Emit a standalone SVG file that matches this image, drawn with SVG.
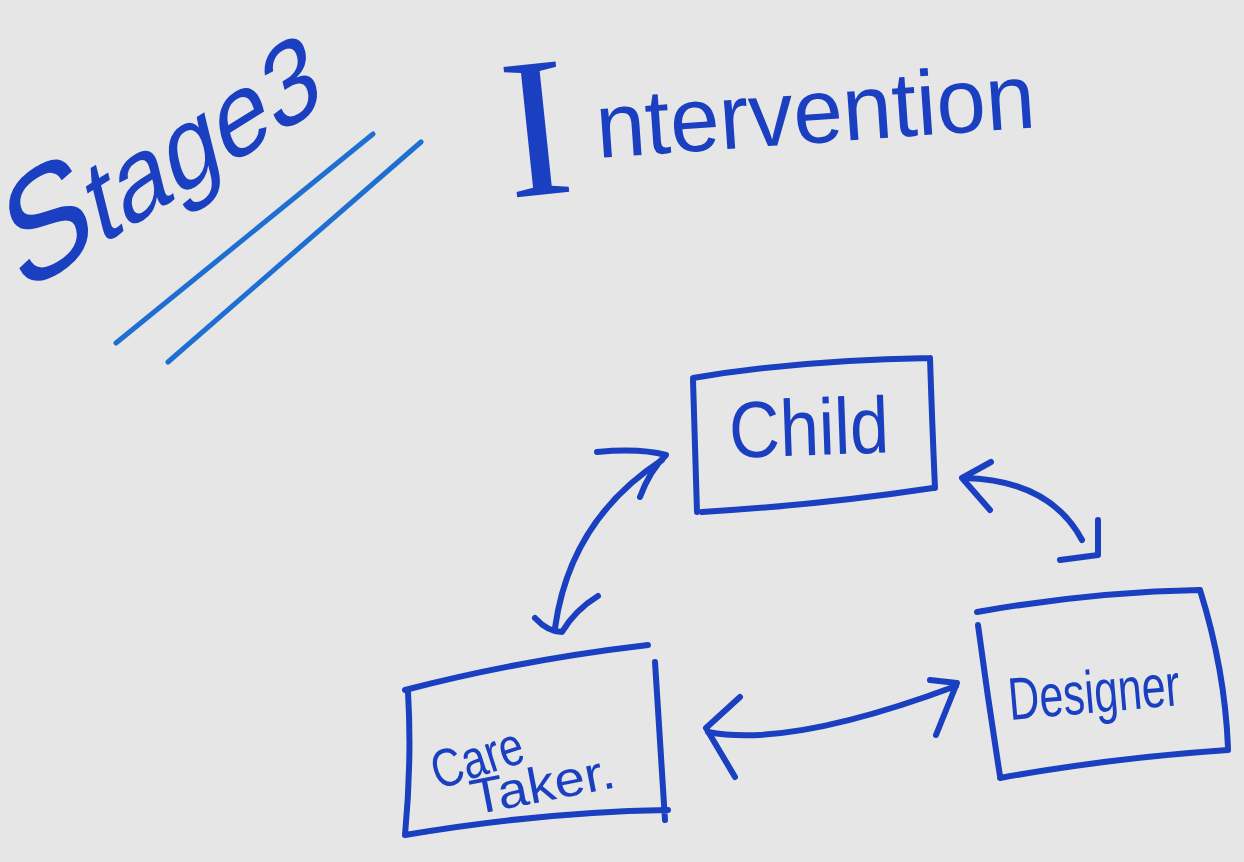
<svg xmlns="http://www.w3.org/2000/svg" width="1244" height="862" viewBox="0 0 1244 862">
<style>
.ink{fill:none;stroke:#1a3fc0;stroke-width:6;stroke-linecap:round;stroke-linejoin:round}
.ul{fill:none;stroke:#1f6fd2;stroke-width:5;stroke-linecap:round}
.hw{font-family:"Liberation Sans",Arial,sans-serif;fill:#1a3fc0}
.hs{font-family:"Liberation Serif","Times New Roman",serif;fill:#1a3fc0}
</style>
<rect width="1244" height="862" fill="#e6e6e6"/>
<g id="title">
<text class="hw" transform="translate(20,296) rotate(-32) skewX(-18)" textLength="360" lengthAdjust="spacingAndGlyphs"><tspan font-size="145">S</tspan><tspan font-size="110">tage3</tspan></text>
<path class="ul" d="M116,343 L373,134"/>
<path class="ul" d="M168,362 L421,142"/>
<text class="hs" transform="translate(510,198) rotate(-6)" font-size="200">I</text>
<text class="hw" transform="translate(598,158) rotate(-4)" font-size="92" textLength="440" lengthAdjust="spacingAndGlyphs">ntervention</text>
</g>
<g id="child">
<path class="ink" d="M693,378 Q800,360 930,358 M930,358 Q932,420 935,488 M933,488 Q820,505 702,512 M693,380 Q695,450 697,512"/>
<text class="hw" transform="translate(730,458) rotate(-2)" font-size="80" textLength="160" lengthAdjust="spacingAndGlyphs">Child</text>
</g>
<g id="caretaker">
<path class="ink" d="M405,690 Q520,660 648,645 M408,692 Q412,760 405,835 M405,835 Q540,812 668,810 M655,662 Q660,740 665,820"/>
<text class="hw" transform="translate(438,790) rotate(-18)" font-size="54" textLength="94" lengthAdjust="spacingAndGlyphs">Care</text>
<text class="hw" transform="translate(474,815) rotate(-11)" font-size="50" textLength="146" lengthAdjust="spacingAndGlyphs">Taker.</text>
</g>
<g id="designer">
<path class="ink" d="M977,612 Q1090,592 1200,590 M978,625 Q988,700 1000,776 M1000,778 Q1110,758 1228,750 M1200,590 Q1225,670 1228,748"/>
<text class="hw" transform="translate(1010,720) rotate(-5)" font-size="60" textLength="172" lengthAdjust="spacingAndGlyphs">Designer</text>
</g>
<g id="connectors">
<path class="ink" d="M662,460 Q570,520 555,628"/>
<path class="ink" d="M597,452 Q640,448 666,455 Q650,470 640,497"/>
<path class="ink" d="M535,618 Q548,632 562,632 Q575,610 598,596"/>
<path class="ink" d="M964,478 Q1050,480 1082,540"/>
<path class="ink" d="M991,462 L962,478 L990,510"/>
<path class="ink" d="M1098,520 L1098,555 L1060,560"/>
<path class="ink" d="M708,732 Q790,748 956,686"/>
<path class="ink" d="M740,697 L706,728 L735,777"/>
<path class="ink" d="M930,680 L957,683 L936,735"/>
</g>
</svg>
